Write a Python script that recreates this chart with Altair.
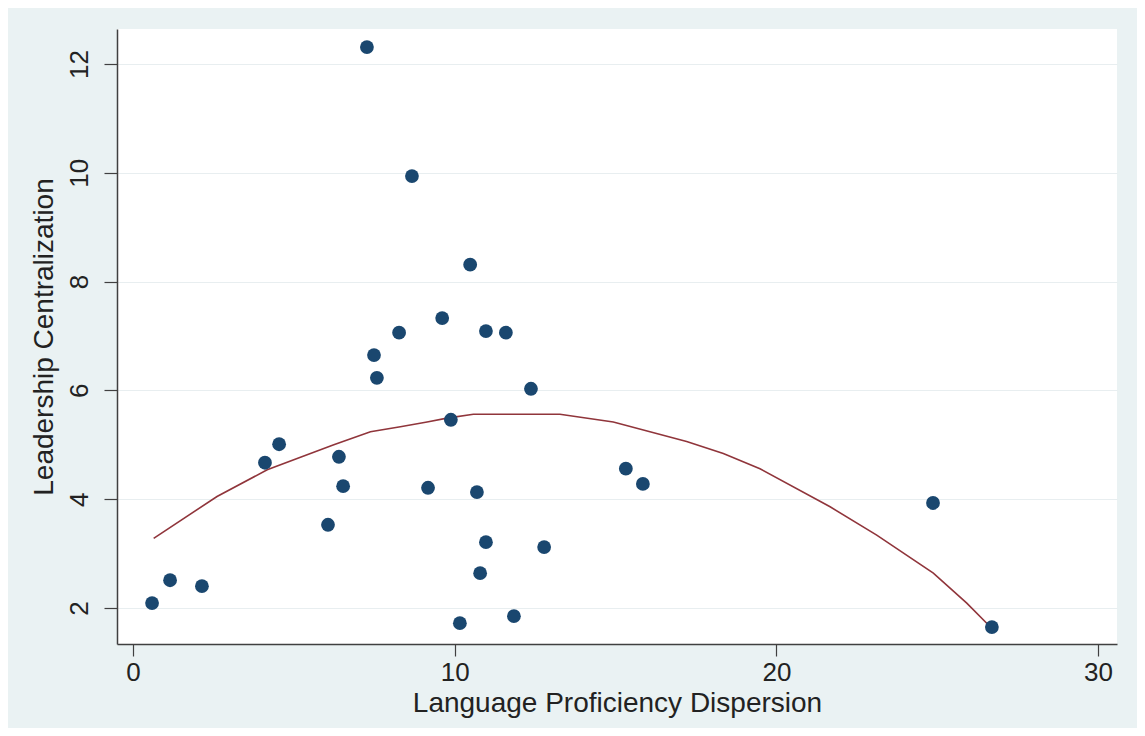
import altair as alt
import pandas as pd

# Scatter data
disp = [0.59, 1.15, 2.14, 4.10, 4.54, 6.06, 6.40, 6.53, 7.27, 7.49, 7.58, 8.27, 8.67, 9.17, 9.61,
        9.88, 10.16, 10.48, 10.69, 10.79, 10.97, 10.97, 11.59, 11.84, 12.37, 12.78, 15.32, 15.85,
        24.87, 26.70]
cent = [2.09, 2.51, 2.40, 4.67, 5.01, 3.53, 4.78, 4.24, 12.31, 6.65, 6.23, 7.06, 9.94, 4.21, 7.33,
        5.46, 1.72, 8.31, 4.13, 2.64, 7.09, 3.21, 7.06, 1.85, 6.03, 3.12, 4.56, 4.28,
        3.93, 1.65]

# Fitted curve
fit_x = [0.64, 2.61, 4.17, 5.10, 6.24, 7.38, 8.31, 9.14, 9.76, 10.58, 13.27, 14.93, 17.21,
         18.35, 19.49, 21.67, 23.12, 24.88, 25.92, 26.64]
fit_y = [3.28, 4.05, 4.54, 4.75, 5.00, 5.24, 5.33, 5.42, 5.49, 5.56, 5.56, 5.42, 5.06,
         4.84, 4.56, 3.86, 3.34, 2.64, 2.09, 1.66]

x_ticks = [0, 10, 20, 30]
y_ticks = [2, 4, 6, 8, 10, 12]

pts = pd.DataFrame({"x": disp, "y": cent})
fit = pd.DataFrame({"x": fit_x, "y": fit_y})

FONT = "Liberation Sans"
xscale = alt.Scale(domain=[-0.5, 30.59], nice=False, zero=False)
yscale = alt.Scale(domain=[1.338, 12.643], nice=False, zero=False)

xaxis = alt.Axis(values=x_ticks, format="d", title="Language Proficiency Dispersion", grid=False,
                 domainColor="#404040", domainWidth=1.5, tickColor="#404040", tickWidth=1.2,
                 tickSize=12, labelFont=FONT, labelFontSize=26, labelColor="#222222",
                 labelPadding=3, titleFont=FONT, titleFontSize=28, titleFontWeight="normal",
                 titleColor="#222222", titlePadding=4, labelFlush=False)
yaxis = alt.Axis(values=y_ticks, format="d", title="Leadership Centralization", grid=True,
                 gridColor="#e8eef0", gridWidth=1.2,
                 domainColor="#404040", domainWidth=1.5, tickColor="#404040", tickWidth=1.2,
                 tickSize=13, labelFont=FONT, labelFontSize=26, labelColor="#222222",
                 labelAngle=270, labelPadding=12, titleFont=FONT, titleFontSize=28,
                 titleFontWeight="normal", titleColor="#222222", titlePadding=8, labelFlush=False)

line = alt.Chart(fit).mark_line(color="#90353b", strokeWidth=1.6).encode(
    x=alt.X("x:Q", scale=xscale, axis=xaxis),
    y=alt.Y("y:Q", scale=yscale, axis=yaxis),
)
dots = alt.Chart(pts).mark_circle(color="#1a476f", opacity=1, size=190).encode(
    x=alt.X("x:Q", scale=xscale),
    y=alt.Y("y:Q", scale=yscale),
)

chart = alt.layer(line, dots).properties(
    width=1000, height=615,
    background="#eaf2f3",
    padding={"left": 109, "top": 21, "right": 20, "bottom": 84},
    autosize=alt.AutoSizeParams(type="none"),
).configure_view(fill="white", stroke=None)

chart.save("out.html", embed_options={"renderer": "svg", "actions": False})
